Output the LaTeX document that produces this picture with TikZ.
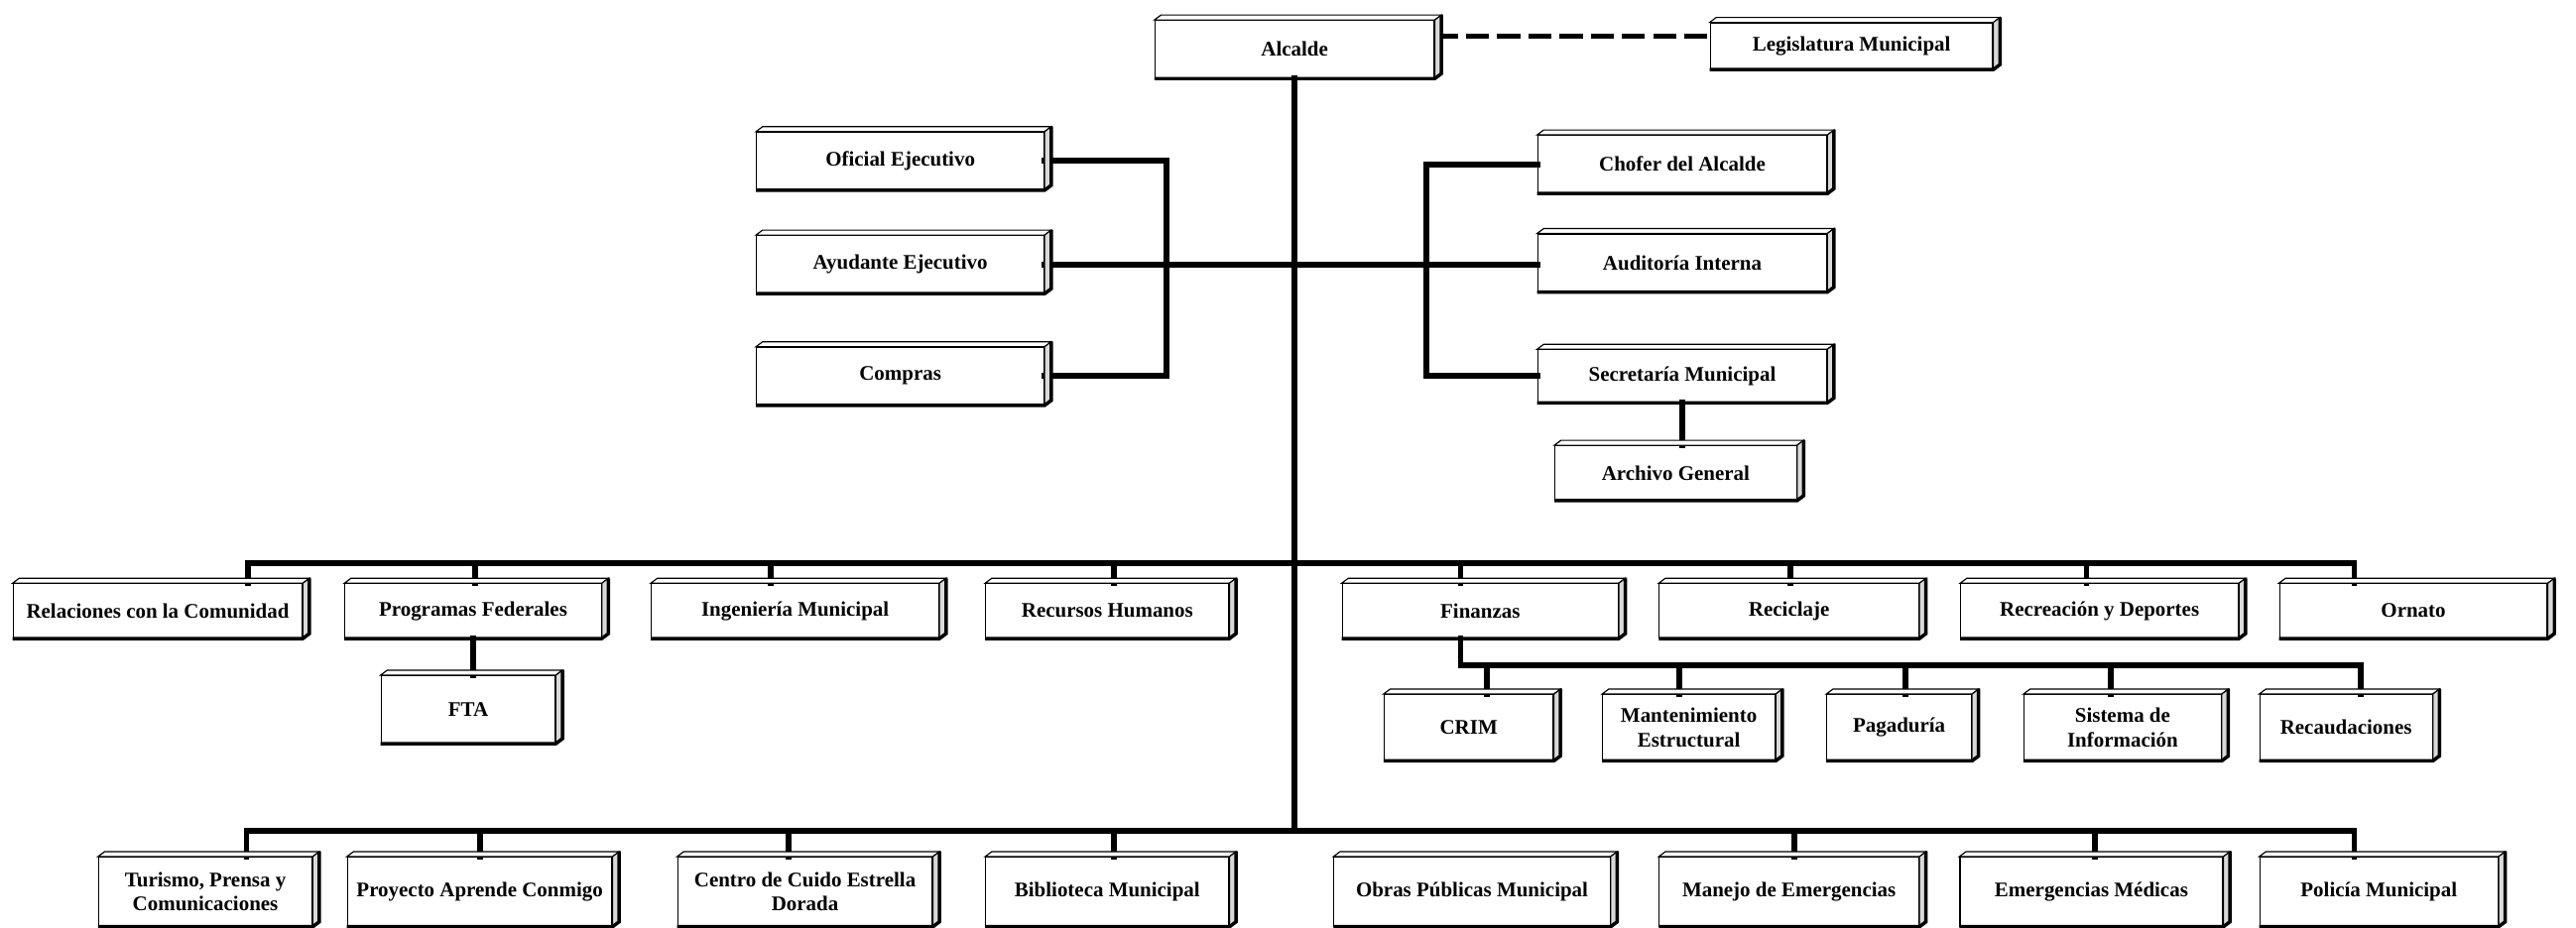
\documentclass[tikz,border=0pt]{standalone}
\usepackage{fontspec}
\setmainfont{Liberation Serif}
\begin{document}
\begin{tikzpicture}[x=0.05cm, y=-0.05cm,
    unit/.style={draw, line width=1pt, fill=white, inner sep=0pt, align=center,
      font=\fontsize{18}{21}\selectfont\bfseries},
    link/.style={line width=5pt, line cap=rect}]
  \useasboundingbox (0,0) rectangle (1568,565);
  % barras horizontales
  \coordinate (bus1) at (0,343);
  \coordinate (bus2) at (0,405);
  \coordinate (bus3) at (0,506);
  \coordinate (lbx) at (710,0);
  \coordinate (rbx) at (868,0);

  % nivel superior
  \node[unit, minimum width=8.5cm, minimum height=1.75cm] (alc) at (788,30) {Alcalde};
  \node[unit, minimum width=8.6cm, minimum height=1.4cm] (leg) at (1127,28) {Legislatura Municipal};
  \node[unit, minimum width=8.75cm, minimum height=1.75cm] (ofi) at (548,98) {Oficial Ejecutivo};
  \node[unit, minimum width=8.75cm, minimum height=1.75cm] (ayu) at (548,161) {Ayudante Ejecutivo};
  \node[unit, minimum width=8.75cm, minimum height=1.75cm] (com) at (548,229) {Compras};
  \node[unit, minimum width=8.8cm, minimum height=1.75cm] (cho) at (1024,100) {Chofer del Alcalde};
  \node[unit, minimum width=8.8cm, minimum height=1.75cm] (aud) at (1024,160) {Auditoría Interna};
  \node[unit, minimum width=8.8cm, minimum height=1.6cm] (sec) at (1024,229) {Secretaría Municipal};
  \node[unit, minimum width=7.35cm, minimum height=1.65cm] (arc) at (1020,288) {Archivo General};

  % departamentos
  \node[unit, minimum width=8.8cm, minimum height=1.65cm] (rel) at (96,372) {Relaciones con la Comunidad};
  \node[unit, minimum width=7.8cm, minimum height=1.65cm] (pro) at (288,372) {Programas Federales};
  \node[unit, minimum width=8.75cm, minimum height=1.65cm] (ing) at (484,372) {Ingeniería Municipal};
  \node[unit, minimum width=7.4cm, minimum height=1.65cm] (rhu) at (674,372) {Recursos Humanos};
  \node[unit, minimum width=8.4cm, minimum height=1.65cm] (fin) at (901,372) {Finanzas};
  \node[unit, minimum width=7.9cm, minimum height=1.65cm] (rcl) at (1089,372) {Reciclaje};
  \node[unit, minimum width=8.45cm, minimum height=1.65cm] (rde) at (1278,372) {Recreación y Deportes};
  \node[unit, minimum width=8.15cm, minimum height=1.65cm] (orn) at (1469,372) {Ornato};
  \node[unit, minimum width=5.3cm, minimum height=2.05cm] (fta) at (285,432) {FTA};

  % finanzas
  \node[unit, minimum width=5.15cm, minimum height=2cm] (crim) at (894,443) {CRIM};
  \node[unit, minimum width=5.25cm, minimum height=2cm] (mes) at (1028,443) {Mantenimiento\\Estructural};
  \node[unit, minimum width=4.4cm, minimum height=2cm] (pag) at (1156,443) {Pagaduría};
  \node[unit, minimum width=6cm, minimum height=2cm] (sin) at (1292,443) {Sistema de\\Información};
  \node[unit, minimum width=5.25cm, minimum height=2cm] (rca) at (1428,443) {Recaudaciones};

  % fila inferior
  \node[unit, minimum width=6.5cm, minimum height=2.1cm] (tur) at (125,543) {Turismo, Prensa y\\Comunicaciones};
  \node[unit, minimum width=8.05cm, minimum height=2.1cm] (pac) at (292,543) {Proyecto Aprende Conmigo};
  \node[unit, minimum width=7.75cm, minimum height=2.1cm] (ced) at (490,543) {Centro de Cuido Estrella\\Dorada};
  \node[unit, minimum width=7.4cm, minimum height=2.1cm] (bib) at (674,543) {Biblioteca Municipal};
  \node[unit, minimum width=8.4cm, minimum height=2.1cm] (obr) at (896,543) {Obras Públicas Municipal};
  \node[unit, minimum width=7.9cm, minimum height=2.1cm] (mae) at (1089,543) {Manejo de Emergencias};
  \node[unit, minimum width=8cm, minimum height=2.1cm] (emm) at (1273,543) {Emergencias Médicas};
  \node[unit, minimum width=7.25cm, minimum height=2.1cm] (pol) at (1448,543) {Policía Municipal};

  % lineas
  \draw[line width=5pt, dash pattern=on 20pt off 7pt] ([yshift=0.4cm]alc.east) -- ([yshift=0.4cm]alc.east -| leg.west);
  \draw[link] (alc.south) -- (alc.south |- bus3);
  \draw[link] (ofi.east) -- (ofi.east -| lbx) |- (com.east);
  \draw[link] (cho.west) -- (cho.west -| rbx) |- (sec.west);
  \draw[link] (ayu.east) -- (ayu.east -| aud.west);
  \draw[link] (sec.south) -- (sec.south |- arc.north);
  \draw[link] (pro.south) -- (pro.south |- fta.north);
  \draw[link] (bus1 -| 151,0) -- (bus1 -| 1433,0);
  \foreach \n/\x in {rel/151, pro/289, ing/469, rhu/678, fin/889, rcl/1090, rde/1270, orn/1433}
    \draw[link] (\n.north -| \x,0) -- (bus1 -| \x,0);
  \draw[link] (fin.south -| 889,0) -- (bus2 -| 889,0) -- (bus2 -| 1437,0);
  \foreach \n/\x in {crim/905, mes/1022, pag/1160, sin/1285, rca/1437}
    \draw[link] (\n.north -| \x,0) -- (bus2 -| \x,0);
  \draw[link] (bus3 -| 150,0) -- (bus3 -| 1433,0);
  \foreach \n/\x in {tur/150, pac/292, ced/480, bib/678, mae/1092, emm/1275, pol/1433}
    \draw[link] (\n.north -| \x,0) -- (bus3 -| \x,0);

  % relieve de las cajas
  \foreach \n in {alc,leg,ofi,ayu,com,cho,aud,sec,arc,rel,pro,ing,rhu,fin,rcl,rde,orn,fta,
      crim,mes,pag,sin,rca,tur,pac,ced,bib,obr,mae,emm,pol} {
    \filldraw[fill=white, line width=1pt] (\n.north west) -- ([shift={(4,-3)}]\n.north west)
      -- ([shift={(4,-3)}]\n.north east) -- (\n.north east) -- cycle;
    \filldraw[fill=gray!30, line width=1pt] (\n.north east) -- ([shift={(4,-3)}]\n.north east)
      -- ([shift={(4,-3)}]\n.south east) -- (\n.south east) -- cycle;
    \draw[line width=3pt] (\n.south west) -- (\n.south east) -- ([shift={(4,-3)}]\n.south east)
      -- ([shift={(4,-3)}]\n.north east);
  }
\end{tikzpicture}
\end{document}
